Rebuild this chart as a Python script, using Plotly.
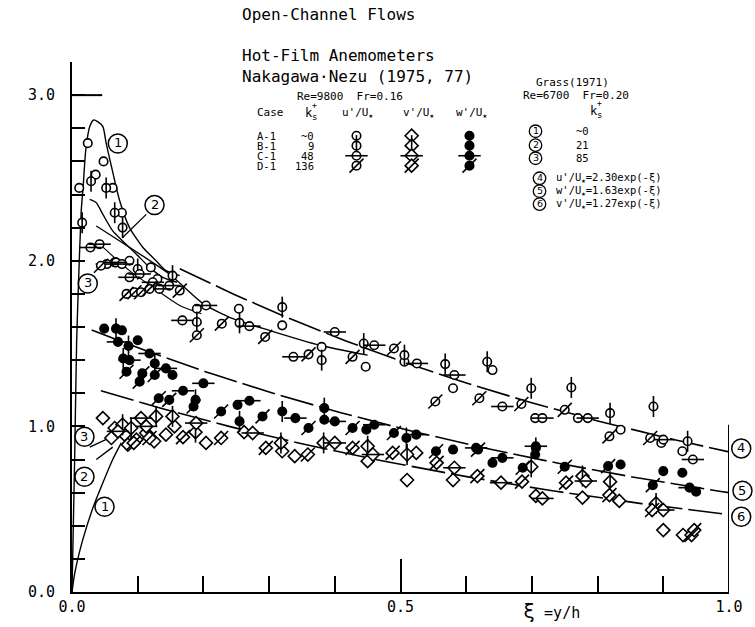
import numpy as np
import plotly.graph_objects as go

MONO = "DejaVu Sans Mono"
SANS = "DejaVu Sans"
Y_TOP = 3.2

# ---- Nakagawa & Nezu hot-film data: u'/U*, v'/U*, w'/U* against xi = y/h ----
u_A_x = [0.011, 0.024, 0.036, 0.048, 0.062, 0.076, 0.0875, 0.065, 0.12, 0.13, 0.19, 0.254, 0.32, 0.38,
         0.447, 0.506, 0.58, 0.64, 0.705, 0.77, 0.835, 0.897, 0.929]
u_A_y = [2.44, 2.71, 2.52, 2.60, 2.44, 2.29, 2.00, 1.99, 1.96, 1.89, 1.71, 1.71, 1.61, 1.48,
         1.36, 1.39, 1.23, 1.34, 1.05, 1.05, 0.98, 0.90, 0.85]

u_B_x = [0.0155, 0.029, 0.052, 0.065, 0.077, 0.10, 0.153, 0.19, 0.255, 0.32, 0.38, 0.444, 0.506, 0.568,
         0.632, 0.699, 0.76, 0.819, 0.885, 0.937]
u_B_y = [2.23, 2.48, 2.44, 2.29, 2.20, 1.95, 1.91, 1.63, 1.625, 1.72, 1.40, 1.50, 1.43, 1.376,
         1.39, 1.23, 1.235, 1.08, 1.12, 0.91]

u_C_x = [0.028, 0.042, 0.053, 0.067, 0.076, 0.0875, 0.103, 0.123, 0.133, 0.148, 0.168, 0.204, 0.27,
         0.337, 0.40, 0.46, 0.525, 0.582, 0.655, 0.716, 0.785, 0.90, 0.945]
u_C_y = [2.08, 2.10, 1.98, 1.99, 1.98, 1.90, 1.92, 1.87, 1.83, 1.85, 1.64, 1.73, 1.605,
         1.42, 1.57, 1.49, 1.38, 1.31, 1.12, 1.05, 1.05, 0.92, 0.80]

u_D_x = [0.044, 0.083, 0.095, 0.105, 0.118, 0.164, 0.19, 0.228, 0.294, 0.36, 0.427, 0.49, 0.553, 0.62,
         0.684, 0.75, 0.818, 0.88]
u_D_y = [1.97, 1.80, 1.81, 1.81, 1.83, 1.82, 1.55, 1.62, 1.54, 1.435, 1.42, 1.47, 1.15, 1.17,
         1.135, 1.10, 0.94, 0.93]

w_A_x = [0.049, 0.076, 0.10, 0.153, 0.252, 0.384, 0.448, 0.58, 0.64, 0.705, 0.835, 0.90, 0.929, 0.95]
w_A_y = [1.59, 1.58, 1.52, 1.31, 1.13, 1.04, 0.98, 0.86, 0.78, 0.83, 0.77, 0.73, 0.72, 0.605]

w_B_x = [0.067, 0.086, 0.078, 0.126, 0.188, 0.255, 0.32, 0.384, 0.509, 0.706]
w_B_y = [1.59, 1.485, 1.41, 1.38, 1.16, 1.03, 1.09, 1.11, 0.93, 0.87]

w_C_x = [0.07, 0.0875, 0.118, 0.143, 0.169, 0.20, 0.27, 0.34, 0.40, 0.46, 0.524, 0.615, 0.655, 0.706, 0.94]
w_C_y = [1.51, 1.40, 1.44, 1.35, 1.215, 1.26, 1.155, 1.05, 1.03, 1.01, 0.95, 0.87, 0.81, 0.88, 0.63]

w_D_x = [0.083, 0.103, 0.107, 0.126, 0.132, 0.148, 0.185, 0.227, 0.29, 0.36, 0.427, 0.49, 0.554, 0.618,
         0.686, 0.75, 0.816, 0.884]
w_D_y = [1.33, 1.27, 1.32, 1.31, 1.17, 1.16, 1.12, 1.09, 1.06, 0.99, 0.99, 0.96, 0.85, 0.86,
         0.75, 0.756, 0.76, 0.645]

v_A_x = [0.047, 0.065, 0.08, 0.098, 0.113, 0.143, 0.156, 0.204, 0.06, 0.085, 0.125, 0.262, 0.32, 0.339,
         0.45, 0.51, 0.524, 0.58, 0.706, 0.777, 0.833, 0.90, 0.93]
v_A_y = [1.05, 0.99, 0.95, 0.92, 0.96, 0.95, 1.00, 0.90, 0.93, 0.89, 0.91, 0.965, 0.85, 0.82,
         0.79, 0.676, 0.84, 0.676, 0.58, 0.57, 0.55, 0.374, 0.344]

v_B_x = [0.077, 0.09, 0.128, 0.153, 0.188, 0.318, 0.383, 0.45, 0.51, 0.699, 0.777, 0.819, 0.889]
v_B_y = [1.01, 0.99, 1.06, 1.06, 0.965, 0.90, 0.90, 0.88, 0.83, 0.756, 0.70, 0.666, 0.535]

v_C_x = [0.105, 0.113, 0.07, 0.189, 0.275, 0.40, 0.458, 0.582, 0.653, 0.716, 0.782, 0.90]
v_C_y = [1.05, 1.00, 0.97, 1.02, 0.96, 0.90, 0.83, 0.75, 0.66, 0.565, 0.67, 0.495]

v_D_x = [0.094, 0.118, 0.169, 0.227, 0.295, 0.359, 0.427, 0.488, 0.555, 0.617, 0.685, 0.752, 0.818,
         0.883, 0.943, 0.947]
v_D_y = [0.90, 0.93, 0.935, 0.93, 0.87, 0.83, 0.87, 0.84, 0.78, 0.70, 0.666, 0.66, 0.585,
         0.495, 0.344, 0.374]

# hand-drawn profile line through the near-wall u' points
prof_u_x = [0.042, 0.0875, 0.123, 0.164, 0.197]
prof_u_y = [2.10, 1.94, 1.84, 1.73, 1.68]

# ---- Grass (1971) profiles, k_s+ ~0, 21, 85 ----
grass1_u_x = [0.0, 0.004, 0.007, 0.009, 0.014, 0.017, 0.021, 0.027, 0.033, 0.039, 0.047, 0.052, 0.06,
              0.072, 0.0875, 0.108, 0.128, 0.143, 0.164]
grass1_u_y = [0.0, 0.8, 1.5, 1.76, 2.30, 2.45, 2.67, 2.81, 2.85, 2.84, 2.81, 2.71, 2.57,
              2.37, 2.20, 2.08, 2.00, 1.94, 1.91]
grass2_u_x = [0.027, 0.037, 0.047, 0.062, 0.077, 0.098, 0.118, 0.138, 0.16]
grass2_u_y = [2.37, 2.35, 2.28, 2.18, 2.12, 2.04, 1.96, 1.90, 1.87]
grass3_u_x = [0.037, 0.148, 0.2, 0.245, 0.3, 0.377, 0.45]
grass3_u_y = [2.21, 1.92, 1.74, 1.65, 1.58, 1.49, 1.43]

grass1_v_x = [0.0, 0.004, 0.016, 0.032, 0.047, 0.062, 0.075]
grass1_v_y = [0.0, 0.11, 0.31, 0.51, 0.66, 0.80, 0.90]
grass2_v_x = [0.037, 0.062]
grass2_v_y = [0.80, 0.875]
grass3_v_x = [0.027, 0.057]
grass3_v_y = [0.875, 0.93]

# ---- exponential laws (4) u', (5) w', (6) v' ----
law_coef = [2.30, 1.63, 1.27]
law_start = [0.164, 0.03, 0.044]

fig = go.Figure()


def add_line(x, y, dash="solid", width=1.4, shape="spline"):
    fig.add_trace(go.Scatter(x=x, y=y, mode="lines", hoverinfo="skip",
                             line=dict(color="black", width=width, dash=dash, shape=shape,
                                       smoothing=0.6)))


for c, s in zip(law_coef, law_start):
    xs = np.linspace(s, 1.0, 80)
    add_line(xs, c * np.exp(-xs), dash="34px,6px", width=1.6, shape="linear")

add_line(grass1_u_x, grass1_u_y)
add_line(grass2_u_x, grass2_u_y)
add_line(grass3_u_x, grass3_u_y)
add_line(grass1_v_x, grass1_v_y)
add_line(grass2_v_x, grass2_v_y, shape="linear")
add_line(grass3_v_x, grass3_v_y, shape="linear")
add_line(prof_u_x, prof_u_y, width=1.1)

BASE = {"u": ("circle", 8.5, "white"), "v": ("diamond", 10, "white"), "w": ("circle", 8.5, "black")}
STROKE = {"B": ("line-ns-open", 15), "C": ("line-ew-open", 16), "D": ("line-ne-open", 14)}


def add_points(x, y, comp, case):
    sym, size, fill = BASE[comp]
    fig.add_trace(go.Scatter(x=x, y=y, mode="markers", hoverinfo="skip",
                             marker=dict(symbol=sym, size=size, color=fill,
                                         line=dict(color="black", width=1.6))))
    if case in STROKE:
        ssym, ssize = STROKE[case]
        fig.add_trace(go.Scatter(x=x, y=y, mode="markers", hoverinfo="skip",
                                 marker=dict(symbol=ssym, size=ssize, color="black",
                                             line=dict(color="black", width=1.6))))


series = [
    (u_A_x, u_A_y, "u", "A"), (u_B_x, u_B_y, "u", "B"), (u_C_x, u_C_y, "u", "C"), (u_D_x, u_D_y, "u", "D"),
    (v_A_x, v_A_y, "v", "A"), (v_B_x, v_B_y, "v", "B"), (v_C_x, v_C_y, "v", "C"), (v_D_x, v_D_y, "v", "D"),
    (w_A_x, w_A_y, "w", "A"), (w_B_x, w_B_y, "w", "B"), (w_C_x, w_C_y, "w", "C"), (w_D_x, w_D_y, "w", "D"),
]
for sx, sy, comp, case in series:
    add_points(sx, sy, comp, case)

# ---- legend table ----
case_names = ["A-1", "B-1", "C-1", "D-1"]
case_ks = ["~0", "9", "48", "136"]
case_keys = ["A", "B", "C", "D"]
row_y = [2.755, 2.695, 2.634, 2.574]
col_x = {"u": 0.433, "v": 0.517, "w": 0.605}

for comp in ["u", "v", "w"]:
    for key, ry in zip(case_keys, row_y):
        add_points([col_x[comp]], [ry], comp, key)

ann = []
shapes = []


def text(x, y, s, size=11, anchor="left", font=MONO, xref="x", yref="y"):
    ann.append(dict(x=x, y=y, xref=xref, yref=yref, text=s, showarrow=False, xanchor=anchor,
                    yanchor="middle", font=dict(family=font, size=size, color="black")))


def circled(x, y, digit, diam=19, fsize=13, lw=1.5):
    # ring drawn in paper space (not clipped at the axes), digit centred inside
    px, py = x, y / Y_TOP
    r = diam / 2
    shapes.append(dict(type="circle", xref="paper", yref="paper", xsizemode="pixel", ysizemode="pixel",
                       xanchor=px, yanchor=py, x0=-r, x1=r, y0=-r, y1=r,
                       line=dict(color="black", width=lw), fillcolor="rgba(0,0,0,0)"))
    ann.append(dict(x=px, y=py, xref="paper", yref="paper", text=digit, showarrow=False,
                    xanchor="center", yanchor="middle", yshift=0.5,
                    font=dict(family=SANS, size=fsize, color="black")))


# headings, placed in paper space above the axes
text(0.255, 1.0887, "Open-Channel Flows", size=16, xref="paper", yref="paper")
text(0.255, 1.0132, "Hot-Film Anemometers", size=16, xref="paper", yref="paper")
text(0.255, 0.9717, "Nakagawa·Nezu (1975, 77)", size=16, xref="paper", yref="paper")

text(0.339, 2.989, "Re=9800  Fr=0.16")
text(0.278, 2.895, "Case")
text(0.351, 2.893, "k", size=12)
text(0.3615, 2.94, "+", size=8)
text(0.3615, 2.868, "s", size=9)
text(0.4075, 2.895, "u'/U<sub>★</sub>")
text(0.5015, 2.895, "v'/U<sub>★</sub>")
text(0.582, 2.895, "w'/U<sub>★</sub>")
for name, ks, ry in zip(case_names, case_ks, row_y):
    text(0.278, ry, name, size=10.5)
    text(0.372, ry, ks, anchor="right", size=10.5)

# Grass legend
text(0.762, 3.078, "Grass(1971)", anchor="center")
text(0.683, 2.999, "Re=6700  Fr=0.20")
text(0.785, 2.905, "k", size=12)
text(0.7955, 2.952, "+", size=8)
text(0.7955, 2.880, "s", size=9)
grass_digits = ["1", "2", "3"]
grass_ks = ["~0", "21", "85"]
grass_rows = [2.782, 2.698, 2.619]
for d, ks, ry in zip(grass_digits, grass_ks, grass_rows):
    circled(0.7055, ry, d, diam=12.5, fsize=9.5, lw=1.3)
    text(0.777, ry, ks, anchor="center", size=10.5)
law_digits = ["4", "5", "6"]
law_text = ["u'/U<sub>★</sub>=2.30exp(-ξ)", "w'/U<sub>★</sub>=1.63exp(-ξ)", "v'/U<sub>★</sub>=1.27exp(-ξ)"]
law_rows = [2.498, 2.42, 2.342]
for d, t, ry in zip(law_digits, law_text, law_rows):
    circled(0.7116, ry, d, diam=12.5, fsize=9.5, lw=1.3)
    text(0.734, ry, t, size=10.5)

# curve labels on the plot
circled(0.0697, 2.708, "1")
circled(0.024, 1.863, "3")
circled(0.0495, 0.515, "1")
circled(0.019, 0.696, "2")
circled(0.019, 0.937, "3")
circled(1.0186, 0.867, "4")
circled(1.0205, 0.611, "5")
circled(1.0186, 0.454, "6")
circled(0.1256, 2.336, "2")
# leader from label (2) to its curve
shapes.append(dict(type="line", xref="x", yref="y", x0=0.113, y0=2.28, x1=0.077, y1=2.14,
                   line=dict(color="black", width=1.3)))

# axis names
text(-0.061, 2.53, "u'/U<sub>★</sub>", size=16, anchor="center")
text(-0.061, 1.50, "w'/U<sub>★</sub>", size=16, anchor="center")
text(-0.061, 1.16, "v'/U<sub>★</sub>", size=16, anchor="center")
ann.append(dict(x=0.73, y=-0.035, xref="x", yref="paper", showarrow=False, xanchor="center",
                yanchor="middle", text="<span style='font-size:20px'>ξ</span> =y/h",
                font=dict(family=MONO, size=15, color="black")))

shapes += [
    dict(type="line", xref="x", yref="y", x0=1.0, x1=1.0, y0=0, y1=1.01,
         line=dict(color="black", width=2)),
    dict(type="line", xref="x", yref="y", x0=0, x1=0.046, y0=3.0, y1=3.0,
         line=dict(color="black", width=2)),
]

fig.update_layout(
    width=755, height=627,
    margin=dict(l=72, r=26, t=62, b=35, pad=0),
    paper_bgcolor="white", plot_bgcolor="white",
    showlegend=False,
    annotations=ann,
    shapes=shapes,
    xaxis=dict(range=[0, 1.0], showgrid=False, zeroline=False, showline=True, linecolor="black",
               linewidth=2, ticks="inside", ticklen=33, tickwidth=2, tickcolor="black",
               tickmode="linear", tick0=0, dtick=0.5, tickformat=".1f",
               tickfont=dict(family=MONO, size=15, color="black"),
               minor=dict(dtick=0.1, tick0=0, ticks="inside", ticklen=16, tickwidth=2, tickcolor="black")),
    yaxis=dict(range=[0, Y_TOP], showgrid=False, zeroline=False, showline=True, linecolor="black",
               linewidth=2, ticks="inside", ticklen=13, tickwidth=2, tickcolor="black",
               tickmode="linear", tick0=0, dtick=1, tickformat=".1f", ticklabelstandoff=12,
               tickfont=dict(family=MONO, size=15, color="black"),
               minor=dict(dtick=0.2, tick0=0, ticks="inside", ticklen=13, tickwidth=2, tickcolor="black")),
)

fig.write_html("out.html")
